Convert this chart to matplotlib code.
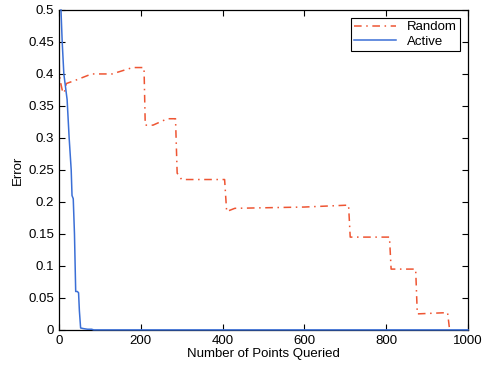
import matplotlib
matplotlib.use("Agg")
import matplotlib.pyplot as plt

plt.rcParams["font.family"] = ["Liberation Sans", "DejaVu Sans"]

# error curve for random sampling
random_x = [0, 1, 3, 8, 13, 18, 40, 80, 130, 180, 208, 211, 230, 265, 285, 289,
            300, 405, 410, 430, 600, 708, 712, 808, 812, 872, 876, 950, 955]
random_err = [0.5, 0.4, 0.39, 0.375, 0.37, 0.385, 0.39, 0.4, 0.4, 0.41, 0.41, 0.32,
              0.32, 0.33, 0.33, 0.245, 0.235, 0.235, 0.185, 0.19, 0.192, 0.195, 0.145,
              0.145, 0.095, 0.095, 0.025, 0.027, 0.0]

# error curve for active querying
active_x = [5, 8, 12, 15, 20, 25, 30, 32, 35, 38, 41, 45, 48, 50, 53, 60, 70, 80, 85, 1000]
active_err = [0.5, 0.45, 0.4, 0.385, 0.36, 0.3, 0.25, 0.21, 0.205, 0.15, 0.06, 0.06,
              0.058, 0.03, 0.003, 0.002, 0.001, 0.001, 0.0, 0.0]

x_ticks = [0, 200, 400, 600, 800, 1000]
y_ticks = [0, 0.05, 0.1, 0.15, 0.2, 0.25, 0.3, 0.35, 0.4, 0.45, 0.5]

fig = plt.figure(figsize=(4.83, 3.69), dpi=100)
ax = fig.add_axes([0.122, 0.106, 0.847, 0.867])

ax.plot(random_x, random_err, color="#ee5533", linestyle="-.", dashes=(5, 3, 1, 3),
        linewidth=1.1, label="Random")
ax.plot(active_x, active_err, color="#3b6fd6", linestyle="-", linewidth=1.1,
        label="Active", clip_on=False, zorder=3)

ax.set_xlim(0, 1000)
ax.set_ylim(0, 0.5)
ax.set_xticks(x_ticks)
ax.set_yticks(y_ticks)
ax.set_xticklabels([str(t) for t in x_ticks])
ax.set_yticklabels(["0", "0.05", "0.1", "0.15", "0.2", "0.25", "0.3", "0.35", "0.4", "0.45", "0.5"])
ax.tick_params(direction="in", top=True, right=True, labelsize=9.5, length=4, width=0.8)
for spine in ax.spines.values():
    spine.set_linewidth(0.9)

ax.set_xlabel("Number of Points Queried", fontsize=9.5, labelpad=1)
ax.set_ylabel("Error", fontsize=9.5, labelpad=3)

leg = ax.legend(loc="upper right", fontsize=9.5, fancybox=False, edgecolor="black",
                framealpha=1, handlelength=3.2, borderpad=0.25, labelspacing=0.15,
                borderaxespad=0.6)
leg.get_frame().set_linewidth(0.8)

fig.savefig("out.png", dpi=100)
